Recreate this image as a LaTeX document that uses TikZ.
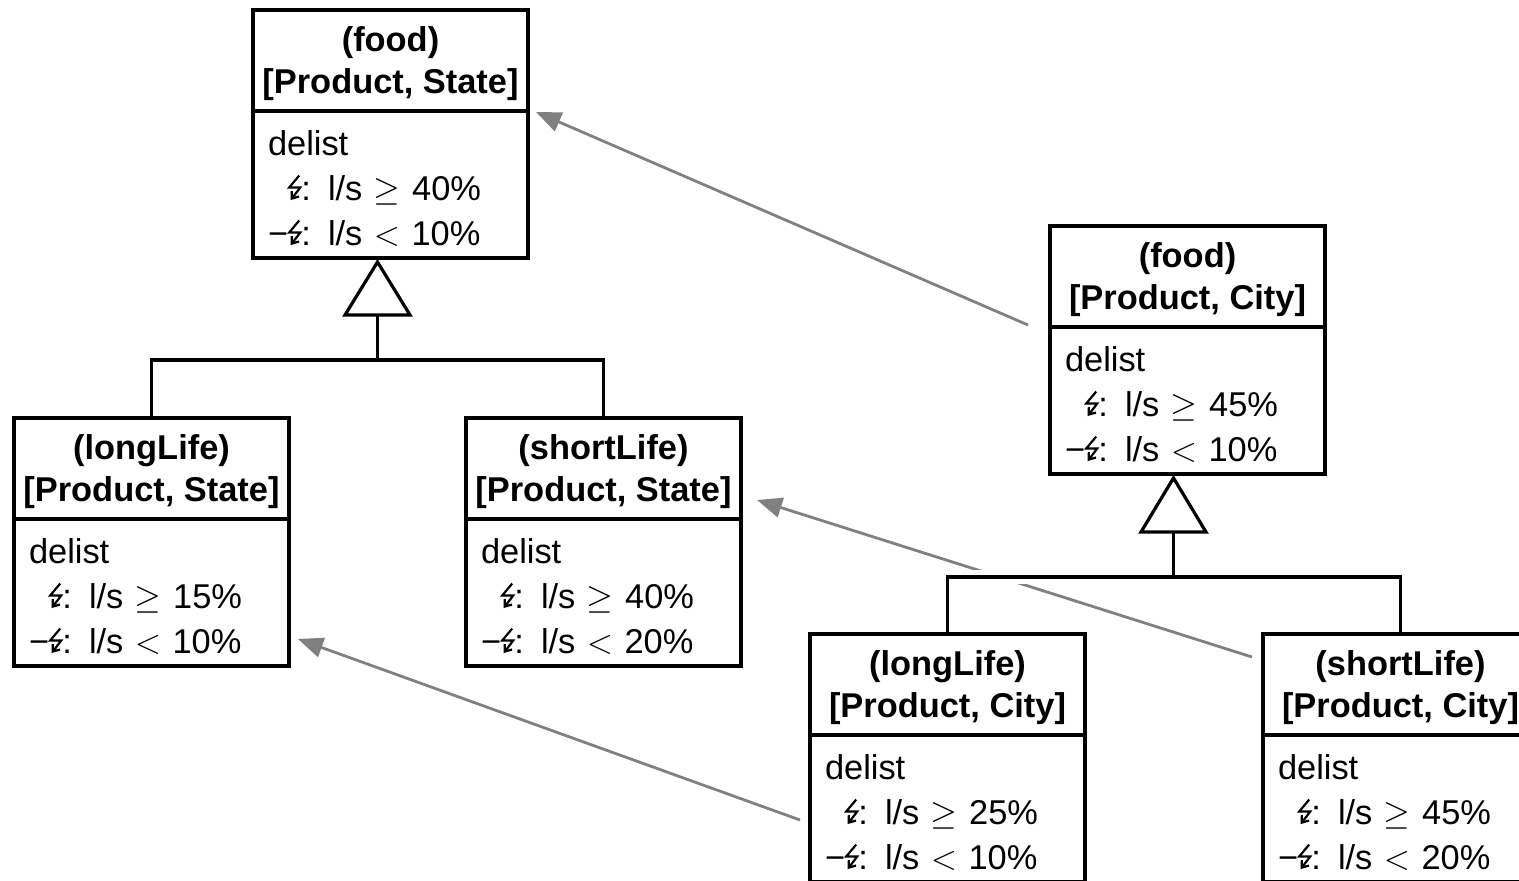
\RequirePackage{fix-cm}
\documentclass[tikz,border=0pt]{standalone}
\usepackage{fontspec}
\setmainfont{Liberation Sans}
\usetikzlibrary{arrows.meta}

% small zig-zag "lightning" symbol used in the delist rules
\newcommand\zap{\tikz[baseline=0pt,x=1pt,y=1pt]\draw[black,line width=2.2pt,line join=miter,
  -{Straight Barb[length=6pt,width=9pt,line width=2.2pt]}]
  (12,25) -- (2,13) -- (13,13) -- (3.5,0.5);}

\tikzset{
  box/.style={draw, line width=3.2pt, minimum width=275pt, inner sep=0pt, outer sep=0pt},
  head/.style={box, minimum height=101pt, align=center,
    font=\bfseries\fontsize{34.4}{42}\selectfont},
  body/.style={box, minimum height=147pt, align=left, text width=245pt,
    inner xsep=15pt, font=\fontsize{34.4}{45}\selectfont},
  tree/.style={line width=3.2pt, line join=miter},
  link/.style={draw={rgb,255:red,128;green,128;blue,128}, line width=2.8pt,
    -{Triangle[length=25pt,width=20pt]}},
}

% id, left x, top y, category, dimensions, delist threshold, keep threshold
% (the tall zero-width rules lower each text block a little inside its compartment)
\newcommand\classbox[7]{%
  \node[head, anchor=north west] (#1-h) at (#2,-#3) {\rule{0pt}{32pt}(#4)\\{[#5]}};
  \node[body, anchor=north] (#1-b) at (#1-h.south)
    {\rule{0pt}{33pt}delist\\\phantom{−}\zap: l/s $\geq$ #6\%\\−\zap: l/s $<$ #7\%};
}

\begin{document}
\begin{tikzpicture}[x=1pt,y=1pt]
\useasboundingbox (0,0) rectangle (1519,-881);

% classes
\classbox{fs}{253}{10}{food}{Product, State}{40}{10}
\classbox{ls}{14}{418}{longLife}{Product, State}{15}{10}
\classbox{ss}{466}{418}{shortLife}{Product, State}{40}{20}
\classbox{fc}{1050}{226}{food}{Product, City}{45}{10}
\classbox{lc}{810}{634}{longLife}{Product, City}{25}{10}
\classbox{sc}{1263}{634}{shortLife}{Product, City}{45}{20}

% mapping links between the two hierarchies
\draw[link] ([shift={(-22,2)}]fc-h.south west) -- ([shift={(8,-1)}]fs-h.south east);
\draw[link] ([shift={(-11,-23)}]sc-h.north west) -- ([shift={(16,-82)}]ss-h.north east);
\draw[link] ([shift={(-10,-85)}]lc-b.north west) -- ([shift={(9,27)}]ls-b.south east);

% generalisation: State hierarchy
\coordinate (apex1) at ([shift={(-13,-4)}]fs-b.south);
\coordinate (bar1) at ([yshift=-98]apex1);
\draw[tree] (apex1) -- ++(-32.5,-53) -- ++(65,0) -- cycle;
\draw[tree] ([yshift=-53]apex1) -- (bar1);
\draw[tree] (ls-h.north) |- (bar1) -| (ss-h.north);

% generalisation: City hierarchy (the bar cuts a gap into the crossing link)
\coordinate (apex2) at ([shift={(-14,-4)}]fc-b.south);
\coordinate (bar2) at ([yshift=-99]apex2);
\draw[white, line width=14pt] (lc-h.north |- bar2) -- (sc-h.north |- bar2);
\draw[tree] (apex2) -- ++(-32.5,-54) -- ++(65,0) -- cycle;
\draw[tree] ([yshift=-54]apex2) -- (bar2);
\draw[tree] (lc-h.north) |- (bar2) -| (sc-h.north);
\end{tikzpicture}
\end{document}
